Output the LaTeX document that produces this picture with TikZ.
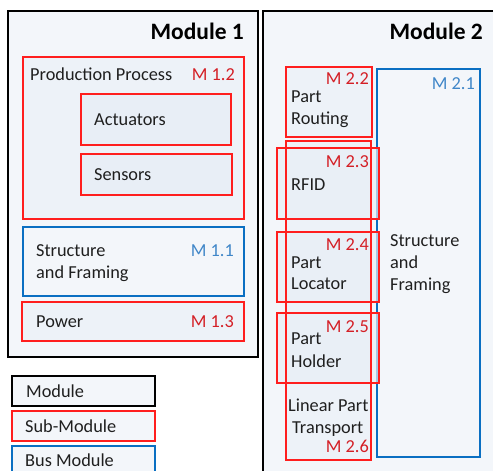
\documentclass[tikz,border=0pt]{standalone}
\usepackage{fontspec}
\setmainfont{Carlito}
\definecolor{modfill}{HTML}{F3F6FA}
\definecolor{subfill}{HTML}{EDF2F8}
\definecolor{innfill}{HTML}{E8EEF6}
\definecolor{redline}{HTML}{FF1E1E}
\definecolor{redtext}{HTML}{D41F26}
\definecolor{blueline}{HTML}{0A6FC2}
\definecolor{bluetext}{HTML}{3F86C8}
\begin{document}
\begin{tikzpicture}[x=1pt,y=-1pt,
  modbox/.style={draw=black,line width=1.4pt,fill=modfill},
  subbox/.style={draw=redline,line width=1.2pt,fill=subfill},
  innbox/.style={draw=redline,line width=1.2pt,fill=innfill},
  busbox/.style={draw=blueline,line width=2pt,fill=modfill},
  lbl/.style={inner sep=0pt,font=\fontsize{18.3}{22}\selectfont,text=black!88},
  title/.style={inner sep=0pt,font=\fontsize{23.5}{28}\selectfont\bfseries},
  rlbl/.style={inner sep=0pt,font=\fontsize{18.3}{22}\selectfont,text=redtext},
  blbl/.style={inner sep=0pt,font=\fontsize{18.3}{22}\selectfont,text=bluetext}]
\useasboundingbox (0,0) rectangle (493,471);
\fill[white] (0,0) rectangle (493,471);
\begin{scope}
\clip (0,0) rectangle (493,471);
% Module 1
\draw[modbox] (8,11) rectangle (258,357);
\node[title,anchor=base east] (m1t) at (244,39) {Module 1};
\draw[subbox] (23,57) rectangle (244,219);
\node[lbl,anchor=base west] (pp) at (30,80) {Production Process};
\node[rlbl,anchor=base east] (m12) at (235,80) {M 1.2};
\draw[innbox] (81,94) rectangle (231,145);
\node[lbl,anchor=base west] (act) at (94,125) {Actuators};
\draw[innbox] (81,154) rectangle (232,195);
\node[lbl,anchor=base west] (sen) at (94,180) {Sensors};
\draw[busbox] (23,227) rectangle (244,296);
\node[lbl,anchor=base west] (sf1a) at (36,256) {Structure};
\node[lbl,anchor=base west] (sf1b) at (36,278) {and Framing};
\node[blbl,anchor=base east] (m11) at (234,256) {M 1.1};
\draw[subbox] (22,302) rectangle (244,341);
\node[lbl,anchor=base west] (pow) at (36,327) {Power};
\node[rlbl,anchor=base east] (m13) at (234,327) {M 1.3};
% Module 2
\draw[modbox] (263,11) rectangle (500,480);
\node[title,anchor=base east] (m2t) at (483,39) {Module 2};
\draw[busbox] (377,69) rectangle (480,457);
\node[blbl,anchor=base east] (m21) at (475,89) {M 2.1};
\node[lbl,anchor=base west] (sf2a) at (390,246) {Structure};
\node[lbl,anchor=base west] (sf2b) at (390,268) {and};
\node[lbl,anchor=base west] (sf2c) at (390,290) {Framing};
\draw[subbox] (286,67) rectangle (372,137);
\node[rlbl,anchor=base east] (m22) at (369,84) {M 2.2};
\node[lbl,anchor=base west] (pr1) at (291,102) {Part};
\node[lbl,anchor=base west] (pr2) at (291,124) {Routing};
% tall box M 2.6 and overlapping boxes
\fill[subfill] (286,141) rectangle (371,460);
\fill[innfill,opacity=0.7] (277,148) rectangle (379,219);
\fill[innfill,opacity=0.7] (277,232) rectangle (379,302);
\fill[innfill,opacity=0.7] (277,313) rectangle (379,383);
\draw[draw=redline,line width=1.2pt] (286,141) rectangle (371,460);
\draw[draw=redline,line width=1.2pt] (277,148) rectangle (379,219);
\draw[draw=redline,line width=1.2pt] (277,232) rectangle (379,302);
\draw[draw=redline,line width=1.2pt] (277,313) rectangle (379,383);
\node[rlbl,anchor=base east] (m23) at (369,167) {M 2.3};
\node[lbl,anchor=base west] (rfid) at (291,190) {RFID};
\node[rlbl,anchor=base east] (m24) at (369,250) {M 2.4};
\node[lbl,anchor=base west] (pl1) at (291,268) {Part};
\node[lbl,anchor=base west] (pl2) at (291,289) {Locator};
\node[rlbl,anchor=base east] (m25) at (369,332) {M 2.5};
\node[lbl,anchor=base west] (ph1) at (291,344) {Part};
\node[lbl,anchor=base west] (ph2) at (291,367) {Holder};
\node[lbl,anchor=base west] (lt1) at (288,411) {Linear Part};
\node[lbl,anchor=base west] (lt2) at (292,433) {Transport};
\node[rlbl,anchor=base east] (m26) at (369,452) {M 2.6};
% Legend
\draw[modbox] (12,376) rectangle (155,406);
\node[lbl,anchor=base west] (lg1) at (26,397) {Module};
\draw[subbox,fill=modfill] (12,411) rectangle (155,441);
\node[lbl,anchor=base west] (lg2) at (25,432) {Sub-Module};
\draw[busbox] (12,446) rectangle (155,480);
\node[lbl,anchor=base west] (lg3) at (25,466) {Bus Module};
\end{scope}
\end{tikzpicture}
\end{document}
